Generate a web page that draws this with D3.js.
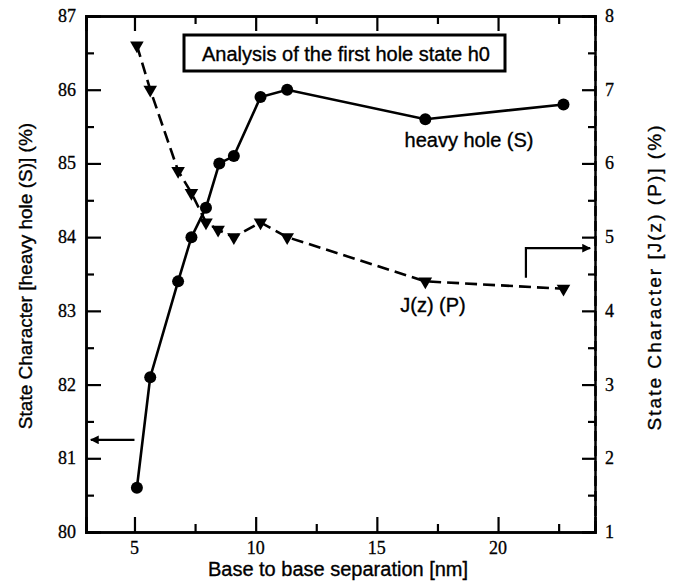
<!DOCTYPE html>
<html>
<head>
<meta charset="utf-8">
<script src="https://cdn.jsdelivr.net/npm/d3@7"></script>
<style>
	body { margin: 0; background: #fff; }
	.num { font-family: "Liberation Serif", "Times New Roman", serif; font-size: 18px; fill: #000; stroke: #000; stroke-width: 0.3px; }
	.lbl { font-family: "Liberation Sans", Arial, Helvetica, sans-serif; font-size: 20px; fill: #000; stroke: #000; stroke-width: 0.35px; }
</style>
</head>
<body>
<div id="my_dataviz"></div>
<script>

// separation [nm]
var sepHeavy = [5.1, 5.65, 6.8, 7.35, 7.95, 8.5, 9.1, 10.2, 11.3, 17.0, 22.7];
// heavy hole (S) character, left axis
var heavyHole = [80.6, 82.1, 83.4, 84.0, 84.4, 85.0, 85.1, 85.9, 86.0, 85.6, 85.8];

var sepJz = [5.1, 5.65, 6.8, 7.35, 7.95, 8.45, 9.1, 10.2, 11.3, 17.0, 22.7];
// J(z) (P) character, right axis
var jzP = [7.6, 7.0, 5.9, 5.6, 5.2, 5.1, 5.0, 5.2, 5.0, 4.4, 4.3];

var xTicks = [5, 10, 15, 20];
var leftTicks = [80, 81, 82, 83, 84, 85, 86, 87];
var rightTicks = [1, 2, 3, 4, 5, 6, 7, 8];

drawChart();

function drawChart() {

	var margin = {top: 16, right: 82, bottom: 53, left: 86},
	width = 677 - margin.left - margin.right,
	height = 585 - margin.top - margin.bottom;

	var svg = d3.select("#my_dataviz")
		.append("svg")
		.attr("width", 677)
		.attr("height", 585)
		.append("g")
		.attr("transform", "translate(" + margin.left + "," + margin.top + ")");

	var x = d3.scaleLinear().domain([3, 24]).range([0, width]);
	var yL = d3.scaleLinear().domain([80, 87]).range([height, 0]);
	var yR = d3.scaleLinear().domain([1, 8]).range([height, 0]);

	var xMinor = d3.range(7.5, 24, 5);
	var leftMinor = d3.range(80.5, 87, 1);
	var rightMinor = d3.range(1.5, 8, 1);

	// arrowhead
	svg.append("defs").append("marker")
		.attr("id", "arr")
		.attr("viewBox", "0 0 10 10")
		.attr("refX", 9).attr("refY", 5)
		.attr("markerWidth", 4).attr("markerHeight", 4)
		.attr("markerUnits", "strokeWidth")
		.attr("orient", "auto")
		.append("path").attr("d", "M0,0 L10,5 L0,10 Z").attr("fill", "#000");

	// bottom axis
	var gx = svg.append("g")
		.attr("transform", "translate(0," + height + ")")
		.call(d3.axisTop(x).tickValues(xTicks).tickSize(15).tickFormat(""));
	gx.append("g").call(d3.axisTop(x).tickValues(xMinor).tickSize(8).tickFormat(""));
	gx.selectAll("text.num")
		.data(xTicks).enter().append("text")
		.attr("class", "num")
		.attr("x", d => x(d))
		.attr("y", 21.5)
		.attr("text-anchor", "middle")
		.text(d => d);

	// top axis (mirror)
	var gt = svg.append("g")
		.call(d3.axisBottom(x).tickValues(xTicks).tickSize(15).tickFormat(""));
	gt.append("g").call(d3.axisBottom(x).tickValues(xMinor).tickSize(8).tickFormat(""));

	// left axis
	var gl = svg.append("g")
		.call(d3.axisRight(yL).tickValues(leftTicks).tickSize(15).tickFormat(""));
	gl.append("g").call(d3.axisRight(yL).tickValues(leftMinor).tickSize(8).tickFormat(""));
	gl.selectAll("text.num")
		.data(leftTicks).enter().append("text")
		.attr("class", "num")
		.attr("x", -10)
		.attr("y", d => yL(d))
		.attr("dy", "0.33em")
		.attr("text-anchor", "end")
		.text(d => d);

	// right axis (dashed)
	var gr = svg.append("g")
		.attr("transform", "translate(" + width + ",0)")
		.call(d3.axisLeft(yR).tickValues(rightTicks).tickSize(13).tickFormat(""));
	gr.append("g").call(d3.axisLeft(yR).tickValues(rightMinor).tickSize(7).tickFormat(""));
	gr.selectAll("text.num")
		.data(rightTicks).enter().append("text")
		.attr("class", "num")
		.attr("x", 10)
		.attr("y", d => yR(d))
		.attr("dy", "0.33em")
		.attr("text-anchor", "start")
		.text(d => d);

	svg.selectAll(".domain").attr("stroke-width", 2.5);
	svg.selectAll(".tick line").attr("stroke-width", 2.2);
	gr.select(".domain").attr("stroke-dasharray", "10,5");

	// J(z) (P) dashed line
	var jzData = sepJz.map((d, i) => ({x: d, y: jzP[i]}));
	svg.append("path")
		.datum(jzData)
		.attr("fill", "none")
		.attr("stroke", "#000")
		.attr("stroke-width", 2.6)
		.attr("stroke-dasharray", "12,6")
		.attr("d", d3.line().x(d => x(d.x)).y(d => yR(d.y)));
	svg.selectAll(".tri")
		.data(jzData).enter().append("path")
		.attr("class", "tri")
		.attr("d", d3.symbol(d3.symbolTriangle, 80))
		.attr("transform", d => "translate(" + x(d.x) + "," + yR(d.y) + ") rotate(180)")
		.attr("fill", "#000");

	// heavy hole (S) solid line
	var hhData = sepHeavy.map((d, i) => ({x: d, y: heavyHole[i]}));
	svg.append("path")
		.datum(hhData)
		.attr("fill", "none")
		.attr("stroke", "#000")
		.attr("stroke-width", 2.6)
		.attr("d", d3.line().x(d => x(d.x)).y(d => yL(d.y)));
	svg.selectAll(".dot")
		.data(hhData).enter().append("circle")
		.attr("class", "dot")
		.attr("cx", d => x(d.x))
		.attr("cy", d => yL(d.y))
		.attr("r", 6)
		.attr("fill", "#000");

	// arrows pointing to the axes
	svg.append("line")
		.attr("x1", x(5.0)).attr("y1", yL(81.25))
		.attr("x2", x(3.2)).attr("y2", yL(81.25))
		.attr("stroke", "#000").attr("stroke-width", 2.2)
		.attr("marker-end", "url(#arr)");
	svg.append("path")
		.attr("d", "M" + x(21.15) + "," + yR(4.45) + " V" + yR(4.85) + " H" + x(23.8))
		.attr("fill", "none")
		.attr("stroke", "#000").attr("stroke-width", 2.2)
		.attr("marker-end", "url(#arr)");

	// title box
	var box = svg.append("g").attr("transform", "translate(" + (184 - margin.left) + "," + (35 - margin.top) + ")");
	box.append("rect")
		.attr("width", 321).attr("height", 36)
		.attr("fill", "#fff").attr("stroke", "#000").attr("stroke-width", 3);
	box.append("text")
		.attr("class", "lbl")
		.attr("x", 162).attr("y", 26)
		.attr("text-anchor", "middle")
		.text("Analysis of the first hole state h0");

	// series labels
	svg.append("text").attr("class", "lbl")
		.attr("x", 469 - margin.left).attr("y", 147 - margin.top)
		.attr("text-anchor", "middle")
		.text("heavy hole (S)");
	svg.append("text").attr("class", "lbl")
		.attr("x", 433 - margin.left).attr("y", 312 - margin.top)
		.attr("text-anchor", "middle")
		.text("J(z) (P)");

	// axis titles
	svg.append("text").attr("class", "lbl")
		.attr("x", 338 - margin.left).attr("y", 576 - margin.top)
		.attr("text-anchor", "middle")
		.text("Base to base separation [nm]");
	svg.append("text").attr("class", "lbl")
		.attr("transform", "translate(" + (32 - margin.left) + "," + (276 - margin.top) + ") rotate(-90)")
		.attr("text-anchor", "middle")
		.style("font-size", "19px")
		.text("State Character [heavy hole (S)] (%)");
	svg.append("text").attr("class", "lbl")
		.attr("transform", "translate(" + (661 - margin.left) + "," + (278 - margin.top) + ") rotate(-90)")
		.attr("text-anchor", "middle")
		.style("font-size", "19px")
		.attr("textLength", 305)
		.attr("lengthAdjust", "spacing")
		.text("State Character [J(z) (P)] (%)");
}
</script>
</body>
</html>
